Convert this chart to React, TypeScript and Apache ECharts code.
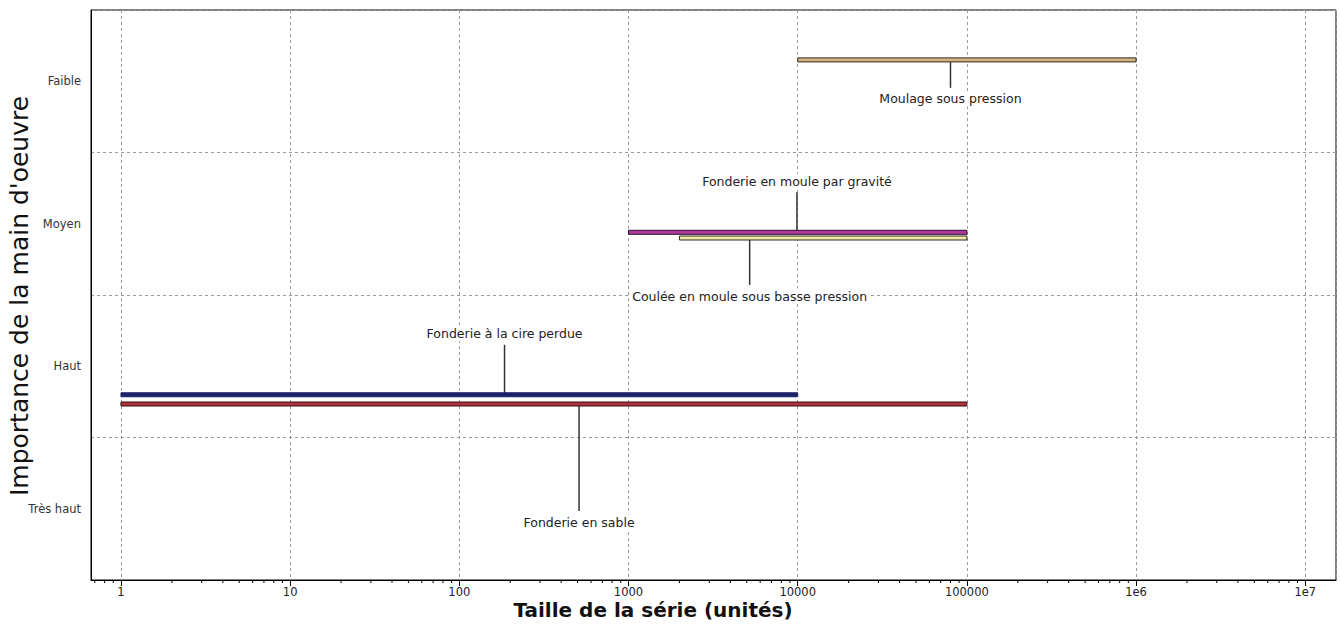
import React, { useEffect, useRef } from 'react';
import * as echarts from 'echarts';

// ---- data ----
const levels = ['Très haut', 'Haut', 'Moyen', 'Faible'];
const processes = [
  'Moulage sous pression',
  'Fonderie en moule par gravité',
  'Coulée en moule sous basse pression',
  'Fonderie à la cire perdue',
  'Fonderie en sable',
];
const minBatch = [10000, 1000, 2000, 1, 1];
const maxBatch = [1000000, 100000, 100000, 10000, 100000];
// position on the labour scale (0 = bottom of "Très haut", 4 = top of "Faible")
const labourPosition = [3.65, 2.44, 2.4, 1.3, 1.235];
const xMin = 0.665;
const xMax = 1.52e7;
const minorMultipliers = [2, 3, 4, 5, 6, 7, 8, 9];
const minorDecades = [-1, 0, 1, 2, 3, 4, 5, 6, 7];

// ---- layout / style ----
const labelAnchor = [80000, 9900, 5200, 185, 510];
const labelOffset = [39, -51, 58, -61, 118];
const barFill = ['#d9b57a', '#b2399a', '#f2eaa0', '#1c2168', '#b0303e'];
const barStroke = ['#2a2a2a', '#2a1030', '#2a2a2a', '#1c2168', '#3a1010'];
const FONT = '"DejaVu Sans", Verdana, sans-serif';

const minorTicks: number[] = [];
minorDecades.forEach((d) =>
  minorMultipliers.forEach((k) => {
    const v = k * Math.pow(10, d);
    if (v > xMin && v < xMax) minorTicks.push(v);
  })
);

export default function App() {
  const ref = useRef<HTMLDivElement>(null);
  useEffect(() => {
    if (!ref.current) return;
    const chart = echarts.init(ref.current, undefined, { renderer: 'svg' });
    const barData = processes.map((_, i) => [minBatch[i], maxBatch[i], labourPosition[i], labelAnchor[i]]);
    const option: any = {
      animation: false,
      backgroundColor: '#fff',
      grid: { left: 91, right: 5, top: 10, bottom: 48, show: true, borderColor: '#000', borderWidth: 1, backgroundColor: 'transparent' },
      xAxis: {
        type: 'log',
        logBase: 10,
        min: xMin,
        max: xMax,
        axisLine: { lineStyle: { color: '#000', width: 1 } },
        axisTick: { length: 6, lineStyle: { color: '#000' } },
        axisLabel: {
          showMinLabel: false,
          showMaxLabel: false,
          margin: 6,
          color: '#222',
          fontSize: 11.5,
          fontFamily: FONT,
          formatter: (v: number) => {
            const e = Math.round(Math.log10(v));
            return e >= 6 ? '1e' + e : String(Math.round(v));
          },
        },
        splitLine: { show: true, lineStyle: { color: '#999', type: [3, 3], width: 1 } },
      },
      yAxis: [
        {
          type: 'category',
          data: levels,
          axisLine: { lineStyle: { color: '#000', width: 1 } },
          axisTick: { length: 5, lineStyle: { color: '#000' } },
          axisLabel: { color: '#333', fontSize: 11.5, fontFamily: FONT, margin: 10 },
          splitLine: { show: true, lineStyle: { color: '#999', type: [3, 3], width: 1 } },
        },
        { type: 'value', min: 0, max: 4, show: false },
      ],
      graphic: [
        {
          type: 'text',
          x: 653,
          y: 610,
          style: { text: 'Taille de la série (unités)', font: 'bold 20px ' + FONT, fill: '#111', align: 'center', verticalAlign: 'middle', textAlign: 'center', textVerticalAlign: 'middle' },
        },
        {
          type: 'text',
          x: 19,
          y: 296,
          rotation: Math.PI / 2,
          style: { text: "Importance de la main d'oeuvre", font: '25px ' + FONT, fill: '#111', align: 'center', verticalAlign: 'middle', textAlign: 'center', textVerticalAlign: 'middle' },
        },
      ],
      series: [
        {
          type: 'custom',
          xAxisIndex: 0,
          yAxisIndex: 1,
          clip: false,
          silent: true,
          data: minorTicks.map((v) => [v, 0]),
          encode: { x: 0, y: 1 },
          renderItem: (params: any, api: any) => {
            const p = api.coord([api.value(0), api.value(1)]);
            return {
              type: 'line',
              shape: { x1: p[0], y1: p[1], x2: p[0], y2: p[1] + 3 },
              style: { stroke: '#000', lineWidth: 1 },
            };
          },
        },
        {
          type: 'custom',
          xAxisIndex: 0,
          yAxisIndex: 1,
          clip: false,
          silent: true,
          data: barData,
          encode: { x: [0, 1, 3], y: 2 },
          renderItem: (params: any, api: any) => {
            const i = params.dataIndex;
            const yv = api.value(2);
            const p0 = api.coord([api.value(0), yv]);
            const p1 = api.coord([api.value(1), yv]);
            const pa = api.coord([api.value(3), yv]);
            const h = 4;
            const y = p0[1];
            const dy = labelOffset[i];
            const labelY = y + dy;
            const s = Math.sign(dy);
            const leaderEnd = labelY - s * 11;
            return {
              type: 'group',
              children: [
                {
                  type: 'line',
                  shape: { x1: pa[0], y1: y, x2: pa[0], y2: leaderEnd },
                  style: { stroke: '#333', lineWidth: 1.5 },
                },
                {
                  type: 'rect',
                  shape: { x: p0[0], y: y - h / 2, width: p1[0] - p0[0], height: h },
                  style: { fill: barFill[i], stroke: barStroke[i], lineWidth: 1 },
                },
                {
                  type: 'text',
                  x: pa[0],
                  y: labelY,
                  style: {
                    text: processes[i],
                    font: '12.5px ' + FONT,
                    fill: '#222',
                    align: 'center',
                    verticalAlign: 'middle',
                    textAlign: 'center',
                    textVerticalAlign: 'middle',
                    backgroundColor: '#fff',
                    padding: [1, 2],
                  },
                },
              ],
            };
          },
        },
      ],
    };
    chart.setOption(option);
    return () => chart.dispose();
  }, []);
  return <div ref={ref} style={{ position: 'absolute', left: 0, top: 0, width: 1341, height: 628 }} />;
}
